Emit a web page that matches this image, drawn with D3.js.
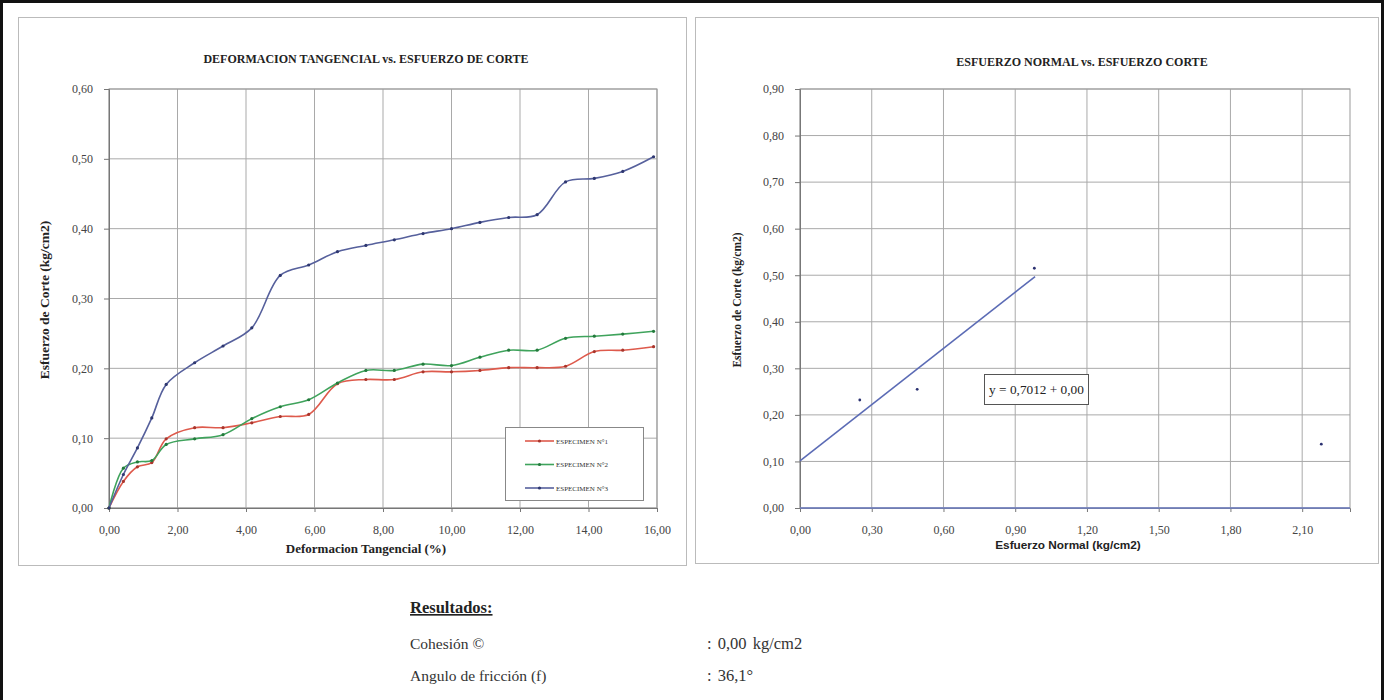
<!DOCTYPE html>
<html><head><meta charset="utf-8">
<script src="https://cdn.jsdelivr.net/npm/d3@7"></script>
<style>
html,body{margin:0;padding:0;background:#fff;}
svg{display:block;}
</style></head>
<body>
<svg id="c" width="1385" height="700" font-family="Liberation Serif, DejaVu Serif, serif"></svg>
<script>
// ---------- DATA ----------
const deformacion = [0, 0.42, 0.83, 1.25, 1.67, 2.50, 3.33, 4.17, 5.00, 5.83, 6.67, 7.50, 8.33, 9.17, 10.00, 10.83, 11.67, 12.50, 13.33, 14.17, 15.00, 15.90];
const especimen1 = [0, 0.038, 0.059, 0.065, 0.099, 0.115, 0.115, 0.122, 0.131, 0.134, 0.178, 0.184, 0.184, 0.195, 0.195, 0.197, 0.201, 0.201, 0.203, 0.224, 0.226, 0.231];
const especimen2 = [0, 0.057, 0.066, 0.068, 0.091, 0.099, 0.105, 0.128, 0.145, 0.155, 0.179, 0.197, 0.197, 0.206, 0.204, 0.216, 0.226, 0.226, 0.243, 0.246, 0.249, 0.253];
const especimen3 = [0, 0.048, 0.086, 0.129, 0.177, 0.208, 0.232, 0.258, 0.333, 0.348, 0.367, 0.376, 0.384, 0.393, 0.400, 0.409, 0.416, 0.420, 0.467, 0.472, 0.482, 0.503];
const seriesNames = ["ESPECIMEN N°1", "ESPECIMEN N°2", "ESPECIMEN N°3"];
const seriesColors = ["#de5a4c", "#3fa35c", "#56609c"];
const markerColors = ["#a8352c", "#237a3c", "#2e3770"];
const leftXTicks = [0, 2, 4, 6, 8, 10, 12, 14, 16];
const leftYTicks = [0, 0.1, 0.2, 0.3, 0.4, 0.5, 0.6];

const esfuerzoNormal = [0.25, 0.49, 0.98, 2.18];
const esfuerzoCorte = [0.232, 0.255, 0.515, 0.137];
const trendX = [0, 0.983];
const trendY = [0.101, 0.497];
const rightXTicks = [0, 0.3, 0.6, 0.9, 1.2, 1.5, 1.8, 2.1];
const rightYTicks = [0, 0.1, 0.2, 0.3, 0.4, 0.5, 0.6, 0.7, 0.8, 0.9];
const ecuacion = "y = 0,7012 + 0,00";

const resultados = [["Cohesión ©", ": 0,00 kg/cm2"], ["Angulo de fricción (f)", ": 36,1°"]];

// ---------- DRAW ----------
const loc = d3.formatLocale({decimal: ",", thousands: ".", grouping: [3], currency: ["", ""]});
const f2 = loc.format(".2f");
const svg = d3.select("#c");

svg.append("rect").attr("x", 1.5).attr("y", 1.5).attr("width", 1381).attr("height", 720)
  .attr("fill", "none").attr("stroke", "#111").attr("stroke-width", 3);
svg.append("rect").attr("x", 18.5).attr("y", 17.5).attr("width", 668).attr("height", 548)
  .attr("fill", "none").attr("stroke", "#bbb").attr("stroke-width", 1);
svg.append("rect").attr("x", 695.5).attr("y", 17.5).attr("width", 683).attr("height", 546)
  .attr("fill", "none").attr("stroke", "#bbb").attr("stroke-width", 1);

function panel(opts) {
  const {x, y, xTicks, yTicks, xDomain, yDomain} = opts;
  const g = svg.append("g");
  g.selectAll(".vg").data(xTicks).join("line")
    .attr("x1", d => x(d)).attr("x2", d => x(d)).attr("y1", y(yDomain[0])).attr("y2", y(yDomain[1]))
    .attr("stroke", "#a9a9a9").attr("stroke-width", 1);
  g.selectAll(".hg").data(yTicks).join("line")
    .attr("x1", x(xDomain[0])).attr("x2", x(xDomain[1])).attr("y1", d => y(d)).attr("y2", d => y(d))
    .attr("stroke", "#a9a9a9").attr("stroke-width", 1);
  g.append("rect").attr("x", x(xDomain[0])).attr("y", y(yDomain[1]))
    .attr("width", x(xDomain[1]) - x(xDomain[0])).attr("height", y(yDomain[0]) - y(yDomain[1]))
    .attr("fill", "none").attr("stroke", "#999");
  const ax = g.append("g").attr("transform", `translate(0,${y(yDomain[0])})`)
    .call(d3.axisBottom(x).tickValues(xTicks).tickFormat(f2).tickSize(4).tickPadding(13));
  const ay = g.append("g").attr("transform", `translate(${x(xDomain[0])},0)`)
    .call(d3.axisLeft(y).tickValues(yTicks).tickFormat(f2).tickSize(5).tickPadding(11));
  [ax, ay].forEach(a => {
    a.select(".domain").attr("stroke", "#777");
    a.selectAll(".tick line").attr("stroke", "#777");
    a.selectAll(".tick text").attr("font-family", "Liberation Serif, serif").attr("font-size", 12).attr("fill", "#444");
  });
  return g;
}

// ---- LEFT CHART ----
const xL = d3.scaleLinear().domain([0, 16]).range([109, 657]);
const yL = d3.scaleLinear().domain([0, 0.6]).range([508, 89]);
panel({x: xL, y: yL, xTicks: leftXTicks, yTicks: leftYTicks, xDomain: [0, 16], yDomain: [0, 0.6]});

svg.append("text").attr("x", 366).attr("y", 63).attr("text-anchor", "middle")
  .attr("font-weight", "bold").attr("font-size", 12).attr("fill", "#222")
  .text("DEFORMACION TANGENCIAL vs. ESFUERZO DE CORTE");
svg.append("text").attr("transform", "translate(49,300) rotate(-90)").attr("text-anchor", "middle")
  .attr("font-weight", "bold").attr("font-size", 13.5).attr("fill", "#222")
  .text("Esfuerzo de Corte (kg/cm2)");
svg.append("text").attr("x", 366).attr("y", 553).attr("text-anchor", "middle")
  .attr("font-weight", "bold").attr("font-size", 13).attr("fill", "#222")
  .text("Deformacion Tangencial (%)");

const allSeries = [especimen1, especimen2, especimen3];
const line = d3.line().x(d => xL(d[0])).y(d => yL(d[1])).curve(d3.curveCatmullRom.alpha(0.5));
allSeries.forEach((s, i) => {
  const pts = deformacion.map((d, j) => [d, s[j]]);
  svg.append("path").datum(pts).attr("d", line).attr("fill", "none")
    .attr("stroke", seriesColors[i]).attr("stroke-width", 1.6);
  svg.append("g").selectAll("circle").data(pts).join("circle")
    .attr("cx", d => xL(d[0])).attr("cy", d => yL(d[1])).attr("r", 1.6)
    .attr("fill", markerColors[i]);
});

const lg = svg.append("g");
lg.append("rect").attr("x", 505.5).attr("y", 427.5).attr("width", 138).attr("height", 73)
  .attr("fill", "#fff").attr("stroke", "#888");
seriesNames.forEach((n, i) => {
  const yy = 441 + i * 23.5;
  lg.append("line").attr("x1", 525).attr("x2", 554).attr("y1", yy).attr("y2", yy)
    .attr("stroke", seriesColors[i]).attr("stroke-width", 1.6);
  lg.append("circle").attr("cx", 539.5).attr("cy", yy).attr("r", 1.6).attr("fill", markerColors[i]);
  lg.append("text").attr("x", 556).attr("y", yy + 2.5).attr("font-size", 7).attr("fill", "#333").text(n);
});

// ---- RIGHT CHART ----
const xR = d3.scaleLinear().domain([0, 2.3]).range([800, 1350]);
const yR = d3.scaleLinear().domain([0, 0.9]).range([508, 89]);
panel({x: xR, y: yR, xTicks: rightXTicks, yTicks: rightYTicks, xDomain: [0, 2.3], yDomain: [0, 0.9]});
svg.append("line").attr("x1", xR(0)).attr("x2", xR(2.3)).attr("y1", yR(0)).attr("y2", yR(0))
  .attr("stroke", "#6f7fc4").attr("stroke-width", 1.5);

svg.append("text").attr("x", 1082).attr("y", 66).attr("text-anchor", "middle")
  .attr("font-weight", "bold").attr("font-size", 12).attr("fill", "#222")
  .text("ESFUERZO NORMAL vs. ESFUERZO CORTE");
svg.append("text").attr("transform", "translate(741,300) rotate(-90)").attr("text-anchor", "middle")
  .attr("font-weight", "bold").attr("font-size", 11.5).attr("fill", "#222")
  .text("Esfuerzo de Corte (kg/cm2)");
svg.append("text").attr("x", 1068).attr("y", 549).attr("text-anchor", "middle")
  .attr("font-family", "Liberation Sans, Arial, sans-serif")
  .attr("font-weight", "bold").attr("font-size", 11.8).attr("fill", "#222")
  .text("Esfuerzo Normal (kg/cm2)");

const tline = d3.line().x(d => xR(d[0])).y(d => yR(d[1]));
svg.append("path").datum(trendX.map((d, i) => [d, trendY[i]])).attr("d", tline)
  .attr("fill", "none").attr("stroke", "#5b6bb5").attr("stroke-width", 1.6);
svg.append("g").selectAll("circle").data(esfuerzoNormal.map((d, i) => [d, esfuerzoCorte[i]])).join("circle")
  .attr("cx", d => xR(d[0])).attr("cy", d => yR(d[1])).attr("r", 1.4).attr("fill", "#2a3070");

const eg = svg.append("g");
eg.append("rect").attr("x", 984.5).attr("y", 374.5).attr("width", 104).attr("height", 30)
  .attr("fill", "#fff").attr("stroke", "#555");
eg.append("text").attr("x", 1036.5).attr("y", 394).attr("text-anchor", "middle")
  .attr("font-size", 13.3).attr("fill", "#222").text(ecuacion);

// ---- RESULTS ----
svg.append("text").attr("x", 410).attr("y", 613).attr("font-weight", "bold").attr("font-size", 16.5)
  .attr("fill", "#222").attr("text-decoration", "underline").text("Resultados:");
resultados.forEach((r, i) => {
  const yy = 649 + i * 32;
  svg.append("text").attr("x", 410).attr("y", yy).attr("font-size", 15.5).attr("fill", "#333").text(r[0]);
  svg.append("text").attr("x", 707).attr("y", yy).attr("font-size", 16.5).attr("word-spacing", 2)
    .attr("fill", "#333").text(r[1]);
});
</script>
</body></html>
